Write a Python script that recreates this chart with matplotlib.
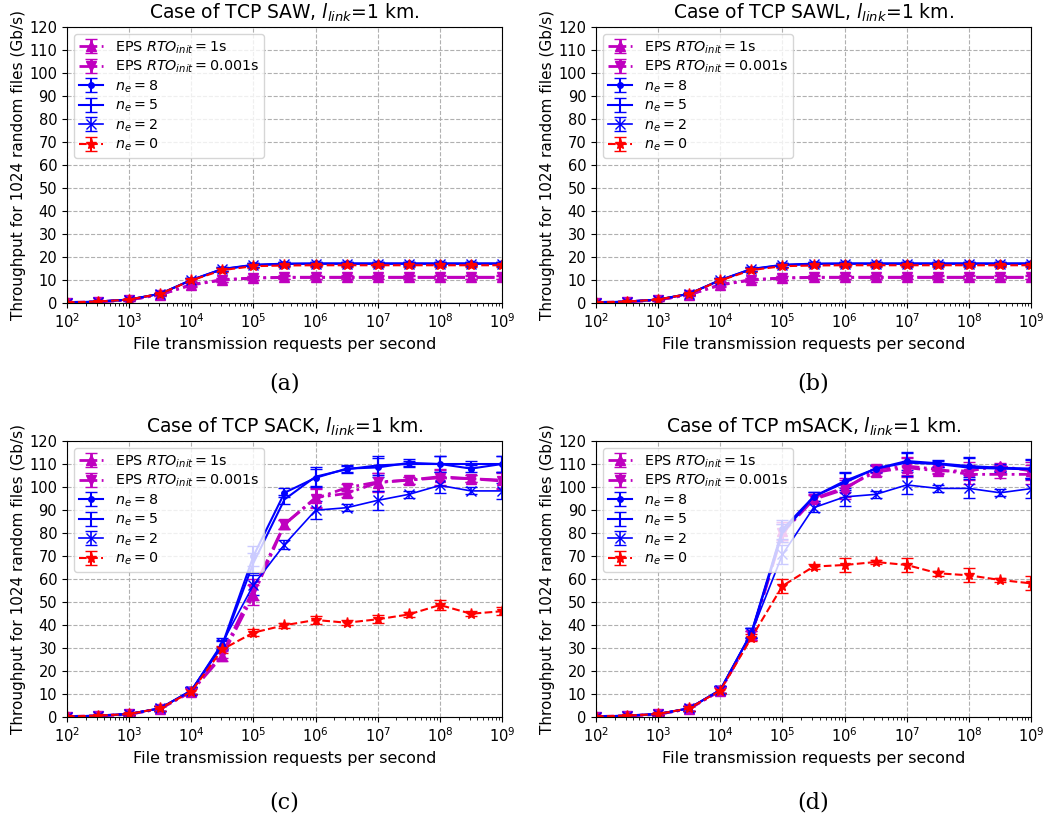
import numpy as np
import matplotlib
matplotlib.use("Agg")
from matplotlib import pyplot as plt
from matplotlib.ticker import LogLocator, NullFormatter

# request rates: half-decade steps from 1e2 to 1e9
rates = [1e2, 3.16e2, 1e3, 3.16e3, 1e4, 3.16e4, 1e5, 3.16e5,
         1e6, 3.16e6, 1e7, 3.16e7, 1e8, 3.16e8, 1e9]

# --- TCP SAW / SAWL (identical curves) ---
saw_eps1 = [0.2, 0.5, 1.3, 3.6, 7.8, 10.0, 10.8, 11.1, 11.1, 11.1, 11.1, 11.1, 11.1, 11.1, 11.1]
saw_eps0001 = [0.2, 0.5, 1.3, 3.6, 8.0, 10.1, 10.9, 11.2, 11.2, 11.2, 11.2, 11.2, 11.2, 11.2, 11.2]
saw_ne8 = [0.2, 0.6, 1.5, 4.0, 10.0, 14.8, 16.6, 17.1, 17.2, 17.2, 17.2, 17.2, 17.2, 17.2, 17.2]
saw_ne5 = [0.2, 0.6, 1.5, 4.0, 10.0, 14.7, 16.5, 17.0, 17.1, 17.1, 17.1, 17.1, 17.1, 17.1, 17.1]
saw_ne2 = [0.2, 0.6, 1.5, 4.0, 9.9, 14.6, 16.4, 16.9, 17.0, 17.0, 17.0, 17.0, 17.0, 17.0, 17.0]
saw_ne0 = [0.2, 0.6, 1.5, 4.0, 9.8, 14.3, 16.0, 16.3, 16.4, 16.4, 16.4, 16.4, 16.4, 16.4, 16.4]
saw_err = [0.1, 0.2, 0.3, 0.5, 0.8, 0.8, 0.8, 0.8, 0.8, 0.8, 0.8, 0.8, 0.8, 0.8, 0.8]

# --- TCP SACK ---
sack_eps1 = [0.2, 0.5, 1.2, 3.6, 11.0, 26.5, 53.0, 83.8, 95.4, 97.2, 101.9, 103.0, 104.5, 103.6, 103.0]
sack_eps0001 = [0.2, 0.5, 1.2, 3.6, 11.0, 27.5, 55.5, 83.8, 95.0, 99.7, 102.2, 103.0, 104.0, 103.6, 102.6]
sack_ne8 = [0.2, 0.6, 1.3, 3.8, 11.5, 31.5, 70.0, 97.5, 104.0, 108.0, 108.5, 110.5, 110.0, 108.0, 110.0]
sack_ne5 = [0.2, 0.6, 1.3, 3.8, 11.5, 31.0, 67.0, 94.6, 104.5, 107.7, 109.4, 110.0, 110.0, 110.0, 110.0]
sack_ne2 = [0.2, 0.6, 1.3, 3.8, 11.5, 32.3, 57.4, 75.0, 89.9, 91.0, 94.2, 96.8, 100.7, 98.3, 98.3]
sack_ne0 = [0.2, 0.6, 1.3, 3.8, 11.0, 29.4, 36.7, 39.9, 42.2, 41.0, 42.5, 44.6, 48.7, 44.9, 46.0]
sack_err = [0.3, 0.4, 0.6, 1.0, 1.5, 2.0, 4.5, 2.0, 4.0, 1.5, 4.0, 1.5, 3.5, 1.5, 3.5]
sack_ne0_err = [0.3, 0.4, 0.6, 1.0, 1.2, 1.5, 1.5, 1.0, 1.8, 1.0, 1.8, 1.0, 2.0, 1.0, 1.8]

# --- TCP mSACK ---
msack_eps1 = [0.2, 0.5, 1.2, 3.6, 11.5, 35.5, 80.9, 95.0, 99.7, 106.5, 108.4, 107.0, 107.0, 109.1, 107.0]
msack_eps0001 = [0.2, 0.5, 1.2, 3.6, 11.5, 35.5, 80.0, 94.6, 99.0, 107.7, 109.1, 107.7, 105.5, 105.5, 105.5]
msack_ne8 = [0.2, 0.6, 1.3, 3.8, 11.8, 36.7, 81.6, 95.8, 102.6, 108.0, 111.3, 110.3, 109.1, 108.4, 108.0]
msack_ne5 = [0.2, 0.6, 1.3, 3.8, 11.8, 36.5, 80.0, 95.8, 101.9, 108.0, 110.6, 110.0, 108.4, 108.0, 107.7]
msack_ne2 = [0.2, 0.6, 1.3, 3.8, 11.8, 36.5, 70.7, 91.0, 95.7, 96.8, 100.9, 99.4, 99.4, 97.5, 99.3]
msack_ne0 = [0.2, 0.6, 1.3, 3.8, 11.5, 34.5, 57.0, 65.4, 66.1, 67.4, 66.1, 62.5, 61.6, 59.6, 58.1]
msack_err = [0.3, 0.4, 0.6, 1.0, 1.5, 2.0, 4.0, 2.0, 4.0, 1.5, 4.0, 1.5, 4.0, 1.5, 4.0]
msack_ne0_err = [0.3, 0.4, 0.6, 1.0, 1.2, 1.5, 3.0, 1.0, 3.0, 1.0, 3.0, 1.0, 3.0, 1.0, 3.0]

labels = [r'EPS $RTO_{init}=1$s', r'EPS $RTO_{init}=0.001$s',
          r'$n_e=8$', r'$n_e=5$', r'$n_e=2$', r'$n_e=0$']


def draw_panel(ax, title, eps1, eps0001, ne8, ne5, ne2, ne0, err, ne0_err):
    """Plot the six throughput curves with error bars on one axis."""
    ax.errorbar(rates, eps1, yerr=err, color='m', ls='-.', lw=2, marker='^',
                ms=7, capsize=4, label=labels[0])
    ax.errorbar(rates, eps0001, yerr=err, color='m', ls='-.', lw=2, marker='v',
                ms=7, capsize=4, label=labels[1])
    ax.errorbar(rates, ne8, yerr=err, color='b', ls='-', lw=1.5, marker='o',
                ms=4, capsize=4, label=labels[2])
    ax.errorbar(rates, ne5, yerr=err, color='b', ls='-', lw=1.5,
                capsize=4, label=labels[3])
    ax.errorbar(rates, ne2, yerr=err, color='b', ls='-', lw=1.2, marker='x',
                ms=7, capsize=4, label=labels[4])
    ax.errorbar(rates, ne0, yerr=ne0_err, color='r', ls='--', lw=1.5, marker='*',
                ms=8, capsize=4, label=labels[5])

    ax.set_xscale('log')
    ax.set_xlim(1e2, 1e9)
    ax.set_ylim(0, 120)
    ax.set_yticks(np.arange(0, 121, 10))
    ax.xaxis.set_major_locator(LogLocator(base=10, numticks=20))
    ax.xaxis.set_minor_locator(LogLocator(base=10, subs=np.arange(2, 10), numticks=20))
    ax.xaxis.set_minor_formatter(NullFormatter())
    ax.tick_params(labelsize=10.5)
    ax.grid(True, which='major', ls='--', color='#b0b0b0', lw=0.8)
    ax.set_title(title, fontsize=13.5)
    ax.set_xlabel('File transmission requests per second', fontsize=11.5)
    ax.set_ylabel('Throughput for 1024 random files (Gb/s)', fontsize=11)
    ax.yaxis.set_label_coords(-0.094, 0.5)
    ax.legend(loc='upper left', fontsize=10.3, handlelength=1.7, labelspacing=0.22,
              borderpad=0.35)


fig = plt.figure(figsize=(10.46, 8.22), dpi=100)

ax_a = fig.add_axes([0.064, 0.6314, 0.416, 0.3358])
ax_b = fig.add_axes([0.5698, 0.6314, 0.416, 0.3358])
ax_c = fig.add_axes([0.064, 0.1277, 0.416, 0.3358])
ax_d = fig.add_axes([0.5698, 0.1277, 0.416, 0.3358])

draw_panel(ax_a, r'Case of TCP SAW, $l_{link}$=1 km.',
           saw_eps1, saw_eps0001, saw_ne8, saw_ne5, saw_ne2, saw_ne0, saw_err, saw_err)
draw_panel(ax_b, r'Case of TCP SAWL, $l_{link}$=1 km.',
           saw_eps1, saw_eps0001, saw_ne8, saw_ne5, saw_ne2, saw_ne0, saw_err, saw_err)
draw_panel(ax_c, r'Case of TCP SACK, $l_{link}$=1 km.',
           sack_eps1, sack_eps0001, sack_ne8, sack_ne5, sack_ne2, sack_ne0, sack_err, sack_ne0_err)
draw_panel(ax_d, r'Case of TCP mSACK, $l_{link}$=1 km.',
           msack_eps1, msack_eps0001, msack_ne8, msack_ne5, msack_ne2, msack_ne0, msack_err, msack_ne0_err)

# sub-figure captions
for x, y, tag in [(0.272, 0.534, '(a)'), (0.777, 0.534, '(b)'),
                  (0.272, 0.024, '(c)'), (0.777, 0.024, '(d)')]:
    fig.text(x, y, tag, ha='center', va='center', fontsize=16, family='DejaVu Serif')

fig.savefig('out.png', dpi=100)
